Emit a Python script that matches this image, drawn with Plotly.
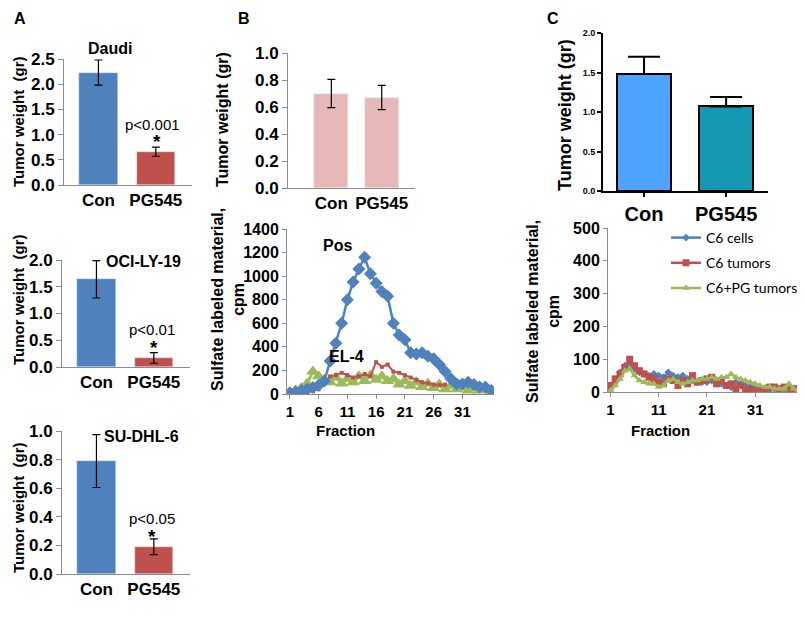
import plotly.graph_objects as go

# the page shows the figure 8px in from its top-left corner
OFF = 8
W, H = 805 - OFF, 617 - OFF
FONT = "Liberation Sans, Arial, sans-serif"

# ---- data ----
groups = ["Con", "PG545"]

daudi_mean = [2.23, 0.66]
daudi_err = [0.25, 0.09]
oci_mean = [1.64, 0.17]
oci_err = [0.35, 0.10]
sudhl_mean = [0.79, 0.19]
sudhl_err = [0.185, 0.055]

b_bar_mean = [0.70, 0.67]
b_bar_err = [0.105, 0.09]

c_bar_mean = [1.48, 1.07]
c_bar_err = [0.22, 0.12]

b_fraction = list(range(1, 37))
b_pos = [10, 20, 30, 40, 55, 75, 110, 280, 430, 600, 800, 950, 1060, 1160, 1020, 940,
         870, 830, 600, 500, 460, 350, 340, 350, 320, 300, 250, 190, 130, 85, 85, 100,
         80, 60, 60, 30]
b_el4_fraction = list(range(4, 29))
b_el4 = [15, 25, 40, 90, 150, 160, 180, 160, 140, 150, 170, 150, 270, 230, 250, 190,
         180, 160, 140, 120, 100, 90, 80, 75, 80]
b_neg = [10, 30, 50, 90, 190, 150, 120, 100, 140, 90, 130, 100, 150, 110, 160, 120,
         150, 110, 130, 80, 110, 70, 100, 60, 90, 50, 80, 40, 70, 40, 60, 30, 50, 30,
         40, 20]

c_fraction = list(range(1, 41))
c6_cells = [10, 30, 60, 80, 85, 70, 60, 55, 50, 55, 50, 45, 60, 50, 45, 50, 40, 35, 30, 30,
            30, 35, 30, 25, 20, 15, 30, 25, 20, 15, 10, 5, 0, 5, 10, 10, 10, 15, 10, 5]
c6_tumors = [20, 40, 55, 75, 100, 80, 65, 55, 45, 40, 30, 25, 40, 35, 20, 35, 25, 50, 30, 35,
             40, 45, 25, 35, 20, 25, 10, 20, 5, 10, 0, 5, 10, 15, 15, 10, 15, 5, 10, 5]
c6_pg_tumors = [5, 20, 40, 65, 70, 50, 35, 30, 25, 25, 15, 20, 35, 40, 30, 25, 30, 35, 35, 40,
                40, 45, 40, 45, 45, 55, 45, 40, 35, 30, 25, 20, 15, 15, 10, 10, 10, 25, 10, 5]

BLUE = "#4f81bd"
RED = "#c0504d"
GREEN = "#9bbb59"
PINK = "#e6b9b8"


def xd(a, b):
    return [(a - OFF) / W, (b - OFF) / W]


def yd(top, bottom):
    return [1 - (bottom - OFF) / H, 1 - (top - OFF) / H]


fig = go.Figure()

# ---- panel A and B bar charts (Excel style) ----
excel_bars = [
    (1, daudi_mean, daudi_err, [BLUE, RED], xd(64, 192), yd(59, 185), [0, 2.5], 0.5),
    (2, oci_mean, oci_err, [BLUE, RED], xd(62, 190), yd(260, 367), [0, 2.0], 0.5),
    (3, sudhl_mean, sudhl_err, [BLUE, RED], xd(62, 190), yd(431, 574), [0, 1.0], 0.2),
    (4, b_bar_mean, b_bar_err, [PINK, PINK], xd(288, 415), yd(53, 188), [0, 1.0], 0.2),
]
for i, mean, err, colors, xdom, ydom, yr, dt in excel_bars:
    sfx = "" if i == 1 else str(i)
    fig.add_trace(go.Bar(
        x=[0, 1], y=mean, marker_color=colors, width=0.67, showlegend=False,
        error_y=dict(type="data", array=err, color="black", thickness=1.2, width=4),
        xaxis=f"x{sfx}", yaxis=f"y{sfx}",
    ))
    xr = [-0.6, 1.63] if i < 4 else [-0.86, 1.66]
    fig.update_layout(**{
        f"xaxis{sfx}": dict(domain=xdom, range=xr, anchor=f"y{sfx}",
                            tickvals=[0, 1], ticktext=groups, showline=True,
                            linecolor="#8c8c8c", ticks="", showgrid=False,
                            tickfont=dict(family=FONT, size=17, color="black", weight="bold")),
        f"yaxis{sfx}": dict(domain=ydom, range=yr, anchor=f"x{sfx}", dtick=dt,
                            tickformat=".1f", showline=True, linecolor="#8c8c8c",
                            ticks="outside", ticklen=5, tickcolor="#8c8c8c",
                            showgrid=False, zeroline=False,
                            tickfont=dict(family=FONT, size=17, color="black", weight="bold")),
    })

# ---- panel B line chart ----
fig.add_trace(go.Scatter(x=b_fraction, y=b_neg, mode="lines+markers", showlegend=False,
                         line=dict(color=GREEN, width=3),
                         marker=dict(symbol="triangle-up", size=12, color=GREEN),
                         xaxis="x5", yaxis="y5"))
fig.add_trace(go.Scatter(x=b_el4_fraction, y=b_el4, mode="lines+markers", showlegend=False,
                         line=dict(color=RED, width=2),
                         marker=dict(symbol="square", size=4, color=RED),
                         xaxis="x5", yaxis="y5"))
fig.add_trace(go.Scatter(x=b_fraction, y=b_pos, mode="lines+markers", showlegend=False,
                         line=dict(color=BLUE, width=2.5),
                         marker=dict(symbol="diamond", size=10, color=BLUE),
                         xaxis="x5", yaxis="y5"))

line_axes = dict(showline=True, linecolor="#8c8c8c", ticks="outside", ticklen=4,
                 tickcolor="#8c8c8c", showgrid=False, zeroline=False,
                 tickfont=dict(family=FONT, size=16, color="black", weight="bold"))
line_xtickfont = dict(family=FONT, size=15, color="black", weight="bold")
fig.update_layout(
    xaxis5=dict(domain=xd(287, 494), range=[0.5, 36.5], anchor="y5",
                tickvals=[1, 6, 11, 16, 21, 26, 31], **{**line_axes, "tickfont": line_xtickfont}),
    yaxis5=dict(domain=yd(229, 394), range=[0, 1400], anchor="x5", dtick=200, **line_axes),
)

# ---- panel C bar chart (GraphPad style) ----
fig.add_trace(go.Bar(
    x=[0, 1], y=c_bar_mean, marker=dict(color=["#4da3ff", "#1598b2"],
                                        line=dict(color="black", width=2)),
    width=0.66, showlegend=False,
    error_y=dict(type="data", array=c_bar_err, arrayminus=[0, 0], color="black",
                 thickness=2, width=16),
    xaxis="x6", yaxis="y6",
))
fig.update_layout(
    xaxis6=dict(domain=xd(603, 768), range=[-0.5, 1.51], anchor="y6",
                tickvals=[0, 1], ticktext=groups, showline=True, linecolor="black",
                linewidth=2, ticks="outside", ticklen=4, tickwidth=2, tickcolor="black",
                showgrid=False,
                tickfont=dict(family=FONT, size=20, color="black", weight="bold")),
    yaxis6=dict(domain=yd(33, 191), range=[0, 2.0], anchor="x6", dtick=0.5,
                tickformat=".1f", showline=True, linecolor="black", linewidth=2,
                ticks="outside", ticklen=4, tickwidth=1.5, tickcolor="black",
                showgrid=False, zeroline=False,
                tickfont=dict(family=FONT, size=9, color="black", weight="bold")),
)

# ---- panel C line chart ----
for name, vals, color, sym, size in [
    ("C6 cells", c6_cells, BLUE, "diamond", 6),
    ("C6 tumors", c6_tumors, RED, "square", 7),
    ("C6+PG tumors", c6_pg_tumors, GREEN, "triangle-up", 7),
]:
    fig.add_trace(go.Scatter(x=c_fraction, y=vals, mode="lines+markers", name=name,
                             legendgroup=name,
                             line=dict(color=color, width=2.5),
                             marker=dict(symbol=sym, size=size, color=color),
                             xaxis="x7", yaxis="y7"))
fig.update_layout(
    xaxis7=dict(domain=xd(608, 801), range=[0.5, 40.5], anchor="y7",
                tickvals=[1, 11, 21, 31], **{**line_axes, "tickfont": line_xtickfont}),
    yaxis7=dict(domain=yd(228, 392), range=[0, 500], anchor="x7", dtick=100, **line_axes),
)

# ---- text ----
def ann(text, px, py, size=15, bold=True, angle=0, family=FONT, xanchor="center",
        yanchor="middle"):
    fig.add_annotation(text=text, x=(px - OFF) / W, y=1 - (py - OFF) / H,
                       xref="paper", yref="paper",
                       showarrow=False, textangle=angle, xanchor=xanchor, yanchor=yanchor,
                       font=dict(family=family, size=size, color="black",
                                 weight="bold" if bold else "normal"))


ann("A", 12, OFF, size=16, xanchor="left", yanchor="top")
ann("B", 236, OFF, size=16, xanchor="left", yanchor="top")
ann("C", 545, OFF, size=16, xanchor="left", yanchor="top")

ann("Daudi", 110, 48, size=16)
ann("OCI-LY-19", 143, 261, size=16)
ann("SU-DHL-6", 141, 436, size=16)
ann("p<0.001", 152, 124, bold=False, size=15)
ann("*", 157, 142, size=19)
ann("p<0.01", 152, 329, bold=False, size=15)
ann("*", 154, 347, size=19)
ann("p<0.05", 152, 518, bold=False, size=15)
ann("*", 152, 536, size=19)

for yc in [122, 300, 508]:
    ann("Tumor weight  (gr)", 18, yc, size=15, angle=-90)
ann("Tumor weight (gr)", 222, 120, size=16, angle=-90)
ann("Tumor weight (gr)", 565, 115, size=18, angle=-90)

ann("Sulfate labeled material,<br>cpm", 228, 300, size=16, angle=-90)
ann("Sulfate labeled material,<br>cpm", 543, 312, size=16, angle=-90)
ann("Pos", 337, 246, size=16)
ann("EL-4", 346, 356, size=16)
ann("Fraction", 345, 430, size=15)
ann("Fraction", 660, 430, size=15)

fig.update_layout(
    width=W, height=H,
    margin=dict(l=0, r=0, t=0, b=0, autoexpand=False),
    paper_bgcolor="white", plot_bgcolor="white",
    bargap=0,
    legend=dict(x=(666 - OFF) / W, y=1 - (222 - OFF) / H, xanchor="left", yanchor="top",
                font=dict(family="Lato, sans-serif", size=14, color="black"),
                bgcolor="rgba(0,0,0,0)", itemwidth=30, tracegroupgap=4),
)

fig.write_html("out.html")
